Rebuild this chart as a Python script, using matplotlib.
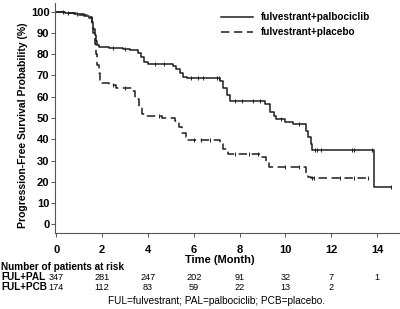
import numpy as np
import matplotlib
matplotlib.use('Agg')
import matplotlib.pyplot as plt
import matplotlib.transforms as mtransforms

plt.rcParams['font.family'] = ['Liberation Sans', 'DejaVu Sans']

# Kaplan-Meier step data (time in months, PFS in %)
pal_t = [0, 0.4, 0.8, 1.2, 1.45, 1.55, 1.62, 1.68, 1.74, 1.8, 1.86, 2.3, 2.9, 3.2, 3.55, 3.7, 3.85, 4.0,
         5.1, 5.25, 5.4, 5.55, 5.7, 7.15, 7.3, 7.45, 7.6, 9.1, 9.35, 9.5, 9.6, 10.0, 10.35, 10.9, 11.0,
         11.1, 11.15, 13.85]
pal_s = [100, 99.5, 99, 98, 97, 95, 92, 89, 86, 84.5, 83.5, 83, 82.5, 82, 80.5, 78.5, 76.5, 75.5,
         74.5, 73, 71, 69.5, 69, 67.5, 64, 61, 58, 56.5, 53, 51, 49.5, 48.2, 47.2, 44, 41,
         38, 35.2, 17.8]
pal_end = 14.6

pcb_t = [0, 0.5, 1.0, 1.45, 1.55, 1.62, 1.68, 1.74, 1.8, 1.86, 1.93, 2.0, 2.3, 2.6, 3.3, 3.45, 3.6, 3.75,
         3.9, 4.6, 5.2, 5.35, 5.5, 5.65, 5.75, 7.15, 7.3, 7.5, 9.0, 9.15, 9.3, 10.9, 11.0, 11.1]
pcb_s = [100, 99.5, 98.5, 97.5, 94, 90, 85, 80, 75, 71, 68, 66.5, 65.5, 64, 62.5, 59, 55, 52,
         50.8, 50, 48.5, 46, 43, 41, 39.5, 38, 35.5, 33, 31.5, 29, 26.8, 24, 22.5, 21.6]
pcb_end = 13.6

# censor times
pal_cens = [0.3, 0.9, 2.5, 3.0, 4.3, 4.7, 5.9, 6.2, 6.4, 7.0, 7.1, 7.8, 8.1, 8.6, 8.9, 9.8, 10.6,
            11.3, 11.4, 11.55, 12.9, 13.0, 13.8, 14.6]
pcb_cens = [0.5, 2.5, 3.0, 4.5, 6.0, 6.3, 6.7, 7.8, 8.4, 8.8, 10.0, 10.6, 11.15, 11.25, 12.4, 13.0, 13.6]

risk_times = [0, 2, 4, 6, 8, 10, 12, 14]
risk_pal = ['347', '281', '247', '202', '91', '32', '7', '1']
risk_pcb = ['174', '112', '83', '59', '22', '13', '2', '']

line_col = '#1e1e1e'
axis_col = '#555555'


def step_value(ts, ss, x):
    idx = np.searchsorted(ts, x, side='right') - 1
    return ss[idx]


def fy(px):
    # pixel row from top -> figure fraction
    return 1 - px / 309


fig = plt.figure(figsize=(4.0, 3.09), dpi=100)
ax = fig.add_axes([0.1375, 0.246, 0.8625, 0.744])

ax.step(pal_t + [pal_end], pal_s + [pal_s[-1]], where='post', color=line_col, lw=1.1,
        label='fulvestrant+palbociclib')
l2, = ax.step(pcb_t + [pcb_end], pcb_s + [pcb_s[-1]], where='post', color=line_col, lw=1.1,
              label='fulvestrant+placebo')
l2.set_dashes([5.5, 3])

ax.plot(pal_cens, [step_value(pal_t, pal_s, c) for c in pal_cens], ls='none', marker='|',
        ms=3.5, mew=0.7, color=line_col)
ax.plot(pcb_cens, [step_value(pcb_t, pcb_s, c) for c in pcb_cens], ls='none', marker='|',
        ms=3.5, mew=0.7, color=line_col)

ax.set_xlim(-0.05, 15.0)
ax.set_ylim(-4, 104)
ax.set_xticks(range(0, 15, 2))
ax.set_yticks(range(0, 101, 10))
ax.tick_params(labelsize=8, length=3, width=0.7, color=axis_col)
ax.tick_params(axis='x', pad=6)
ax.tick_params(axis='y', pad=1)
for lab in ax.get_xticklabels() + ax.get_yticklabels():
    lab.set_fontweight('bold')
for side in ['top', 'right']:
    ax.spines[side].set_visible(False)
for side in ['left', 'bottom']:
    ax.spines[side].set_color(axis_col)
    ax.spines[side].set_linewidth(0.8)

ax.set_ylabel('Progression-Free Survival Probability (%)', fontsize=7.5, fontweight='bold')
ax.yaxis.set_label_coords(-0.078, 0.47)
ax.set_xlabel('Time (Month)', fontsize=8, fontweight='bold')
ax.xaxis.set_label_coords(0.478, -0.096)

ax.legend(loc='upper left', bbox_to_anchor=(0.53, 0.99), bbox_transform=fig.transFigure,
          frameon=False, prop={'weight': 'bold', 'size': 7.2}, handlelength=3.2,
          handletextpad=0.8, labelspacing=0.5)

# number at risk table
fig.text(0.003, fy(267.5), 'Number of patients at risk', fontsize=7.2, fontweight='bold',
         va='center', ha='left')
fig.text(0.003, fy(277.5), 'FUL+PAL', fontsize=7.2, fontweight='bold', va='center', ha='left')
fig.text(0.003, fy(287.5), 'FUL+PCB', fontsize=7.2, fontweight='bold', va='center', ha='left')
risk_tr = mtransforms.blended_transform_factory(ax.transData, fig.transFigure)
for t, a, b in zip(risk_times, risk_pal, risk_pcb):
    ax.text(t, fy(277.5), a, fontsize=6.6, ha='center', va='center', transform=risk_tr, clip_on=False)
    ax.text(t, fy(287.5), b, fontsize=6.6, ha='center', va='center', transform=risk_tr, clip_on=False)

fig.text(0.5425, fy(300.5), 'FUL=fulvestrant; PAL=palbociclib; PCB=placebo.', fontsize=7.2,
         ha='center', va='center')

plt.savefig('out.png', dpi=100)
